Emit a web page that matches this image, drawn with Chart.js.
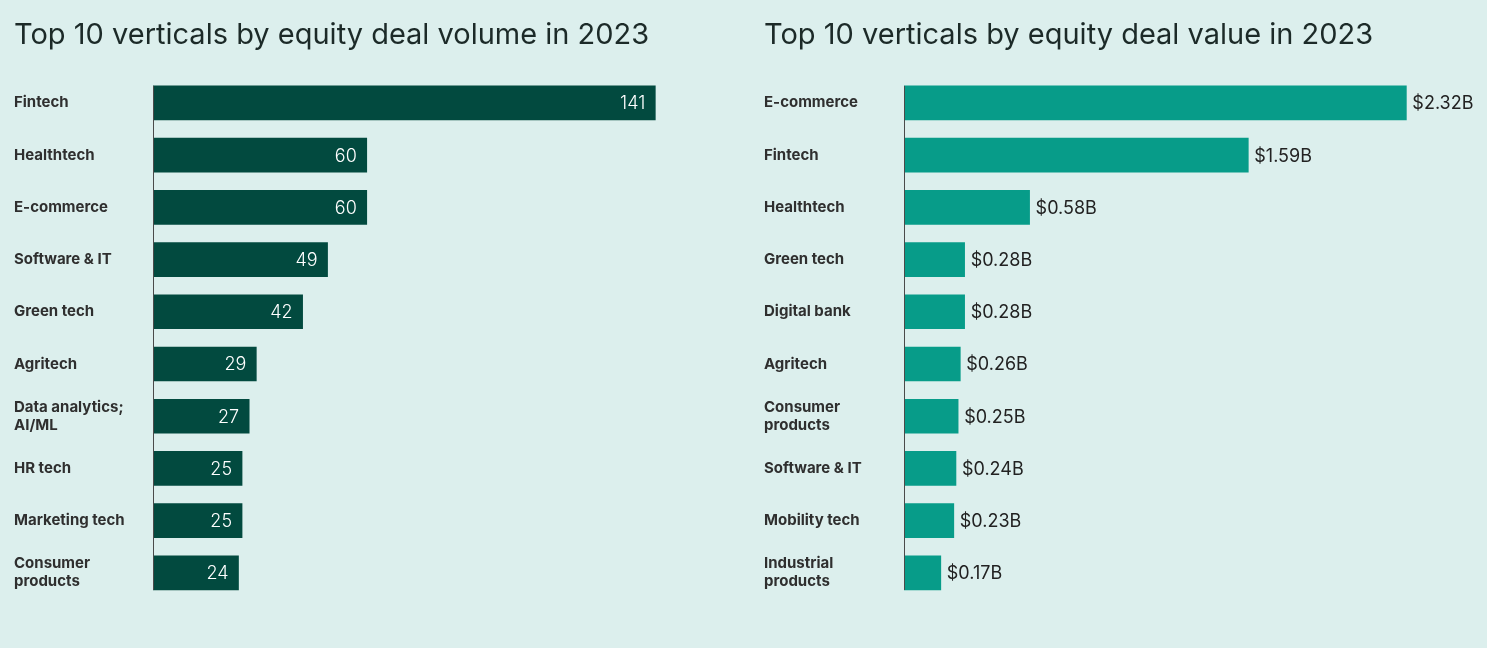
<!DOCTYPE html>
<html>
<head>
<meta charset="utf-8">
<script src="https://cdn.jsdelivr.net/npm/chart.js@4/dist/chart.umd.min.js"></script>
<style>
  html, body { margin: 0; padding: 0; background: #dcefed; }
  #wrap { display: flex; width: 1487px; height: 648px; }
  .box { position: relative; height: 648px; }
</style>
</head>
<body>
<div id="wrap">
  <div class="box" style="width:743px"><canvas id="volChart"></canvas></div>
  <div class="box" style="width:744px"><canvas id="valChart"></canvas></div>
</div>
<script>
// deal volume (count of deals)
const volumeLabels = ['Fintech', 'Healthtech', 'E-commerce', 'Software & IT', 'Green tech', 'Agritech',
  ['Data analytics;', 'AI/ML'], 'HR tech', 'Marketing tech', ['Consumer', 'products']];
const volumeData = [141, 60, 60, 49, 42, 29, 27, 25, 25, 24];

// deal value (US$ billions)
const valueLabels = ['E-commerce', 'Fintech', 'Healthtech', 'Green tech', 'Digital bank', 'Agritech',
  ['Consumer', 'products'], 'Software & IT', 'Mobility tech', ['Industrial', 'products']];
const valueData = [2.32, 1.59, 0.58, 0.28, 0.28, 0.26, 0.25, 0.24, 0.23, 0.17];

const FONT = 'Inter, "Noto Sans", sans-serif';

// draws the value next to / inside each bar
const barValues = {
    id: 'barValues',
    afterDatasetsDraw(chart, args, opts) {
        const ctx = chart.ctx;
        const meta = chart.getDatasetMeta(0);
        ctx.save();
        ctx.textBaseline = 'middle';
        meta.data.forEach(function (bar, i) {
            const v = chart.data.datasets[0].data[i];
            const txt = opts.format(v);
            if (opts.inside) {
                ctx.font = '300 18px ' + FONT;
                ctx.fillStyle = '#ffffff';
                ctx.textAlign = 'right';
                ctx.fillText(txt, bar.x - 10, bar.y + 1);
            } else {
                ctx.font = '400 18px ' + FONT;
                ctx.fillStyle = '#222222';
                ctx.textAlign = 'left';
                ctx.fillText(txt, bar.x + 6, bar.y + 1);
            }
        });
        ctx.restore();
    }
};

// thin axis line that only spans the bars
const axisLine = {
    id: 'axisLine',
    afterDatasetsDraw(chart) {
        const meta = chart.getDatasetMeta(0);
        const first = meta.data[0], last = meta.data[meta.data.length - 1];
        const x = chart.scales.x.getPixelForValue(0);
        const ctx = chart.ctx;
        ctx.save();
        ctx.strokeStyle = '#4a4a4a';
        ctx.lineWidth = 1;
        ctx.beginPath();
        ctx.moveTo(x + 0.5, first.y - first.height / 2);
        ctx.lineTo(x + 0.5, last.y + last.height / 2);
        ctx.stroke();
        ctx.restore();
    }
};

function makeChart(el, title, labels, data, color, xMax, padLeft, yWidth, inside, fmt) {
    return new Chart(document.getElementById(el), {
        type: 'bar',
        data: {
            labels: labels,
            datasets: [{
                data: data,
                backgroundColor: color,
                barThickness: 34,
                borderWidth: 0
            }]
        },
        options: {
            indexAxis: 'y',
            responsive: true,
            maintainAspectRatio: false,
            animation: false,
            layout: { padding: { left: padLeft, right: 20, top: 0, bottom: 49 } },
            plugins: {
                legend: { display: false },
                tooltip: { enabled: false },
                title: {
                    display: true,
                    text: title,
                    align: 'start',
                    color: '#1c2a28',
                    font: { family: FONT, size: 29, weight: '400', lineHeight: 1.2 },
                    padding: { top: 18, bottom: 24 }
                },
                barValues: { inside: inside, format: fmt }
            },
            scales: {
                x: { display: false, min: 0, max: xMax },
                y: {
                    grid: { display: false },
                    border: { display: false },
                    afterFit: function (s) { s.width = yWidth; },
                    ticks: {
                        crossAlign: 'far',
                        color: '#2f2f2f',
                        font: { family: FONT, size: 15, weight: '700', lineHeight: 1.2 }
                    }
                }
            }
        },
        plugins: [barValues, axisLine]
    });
}

makeChart('volChart', 'Top 10 verticals by equity deal volume in 2023', volumeLabels, volumeData,
    '#024a3f', 160, 14, 139, true, function (v) { return String(v); });

makeChart('valChart', 'Top 10 verticals by equity deal value in 2023', valueLabels, valueData,
    '#079c89', 2.6, 21, 140, false, function (v) { return '$' + v.toFixed(2) + 'B'; });
</script>
</body>
</html>
